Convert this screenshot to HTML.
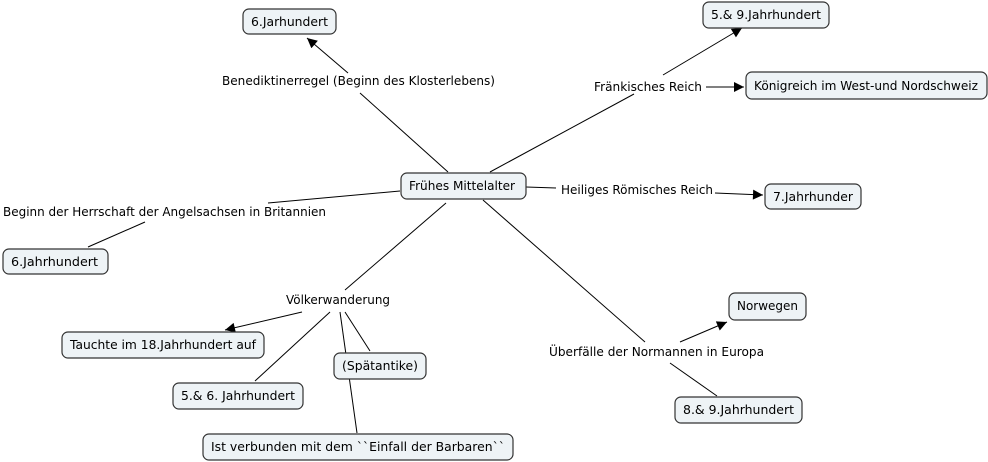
<!DOCTYPE html>
<html><head><meta charset="utf-8"><style>
body{margin:0;background:#fff}
svg{display:block}
text{font-family:"DejaVu Sans","Liberation Sans",sans-serif;font-size:12.5px;fill:#000}
rect{fill:#eef3f6;stroke:#333;stroke-width:1.2}
line{stroke:#000;stroke-width:1}
</style></head><body>
<svg width="988" height="462" viewBox="0 0 988 462" xmlns="http://www.w3.org/2000/svg">
<defs><marker id="a" viewBox="0 0 10 10" refX="10" refY="5" markerWidth="12" markerHeight="10" markerUnits="userSpaceOnUse" orient="auto"><path d="M0,0L10,5L0,10z" fill="#000"/></marker></defs>
<line x1="448" y1="172" x2="360" y2="93"/>
<line x1="348" y1="73" x2="307" y2="38" marker-end="url(#a)"/>
<line x1="490" y1="172" x2="634" y2="94"/>
<line x1="663" y1="75" x2="742" y2="28" marker-end="url(#a)"/>
<line x1="706" y1="87" x2="744" y2="87" marker-end="url(#a)"/>
<line x1="526" y1="187" x2="556" y2="188"/>
<line x1="715" y1="193" x2="763" y2="195" marker-end="url(#a)"/>
<line x1="400" y1="191" x2="268" y2="203"/>
<line x1="145" y1="222" x2="88" y2="247"/>
<line x1="446" y1="203" x2="345" y2="290"/>
<line x1="302" y1="312" x2="225" y2="330" marker-end="url(#a)"/>
<line x1="330" y1="312" x2="255" y2="381"/>
<line x1="340" y1="312" x2="357" y2="433"/>
<line x1="345" y1="312" x2="370" y2="351"/>
<line x1="483" y1="200" x2="645" y2="342"/>
<line x1="680" y1="342" x2="727" y2="322" marker-end="url(#a)"/>
<line x1="670" y1="363" x2="717" y2="396"/>
<rect x="243" y="9" width="93" height="25" rx="6"/><text x="251" y="26" textLength="77" lengthAdjust="spacingAndGlyphs">6.Jarhundert</text>
<rect x="703" y="2" width="126" height="26" rx="6"/><text x="711" y="19" textLength="110" lengthAdjust="spacingAndGlyphs">5.&amp; 9.Jahrhundert</text>
<rect x="746" y="72" width="241" height="27" rx="6"/><text x="754" y="90" textLength="224" lengthAdjust="spacingAndGlyphs">Königreich im West-und Nordschweiz</text>
<rect x="401" y="173" width="125" height="26" rx="6"/><text x="409" y="190" textLength="106" lengthAdjust="spacingAndGlyphs">Frühes Mittelalter</text>
<rect x="765" y="184" width="96" height="25" rx="6"/><text x="773" y="201" textLength="80" lengthAdjust="spacingAndGlyphs">7.Jahrhunder</text>
<rect x="3" y="249" width="105" height="25" rx="6"/><text x="11" y="266" textLength="87" lengthAdjust="spacingAndGlyphs">6.Jahrhundert</text>
<rect x="62" y="332" width="202" height="26" rx="6"/><text x="70" y="349" textLength="186" lengthAdjust="spacingAndGlyphs">Tauchte im 18.Jahrhundert auf</text>
<rect x="334" y="353" width="92" height="26" rx="6"/><text x="342" y="370" textLength="76" lengthAdjust="spacingAndGlyphs">(Spätantike)</text>
<rect x="173" y="383" width="130" height="26" rx="6"/><text x="181" y="400" textLength="114" lengthAdjust="spacingAndGlyphs">5.&amp; 6. Jahrhundert</text>
<rect x="729" y="293" width="77" height="27" rx="6"/><text x="737" y="310" textLength="61" lengthAdjust="spacingAndGlyphs">Norwegen</text>
<rect x="675" y="397" width="127" height="26" rx="6"/><text x="683" y="414" textLength="111" lengthAdjust="spacingAndGlyphs">8.&amp; 9.Jahrhundert</text>
<rect x="203" y="434" width="310" height="26" rx="6"/><text x="211" y="451" textLength="294" lengthAdjust="spacingAndGlyphs">Ist verbunden mit dem ``Einfall der Barbaren``</text>
<text x="222" y="85" textLength="273" lengthAdjust="spacingAndGlyphs">Benediktinerregel (Beginn des Klosterlebens)</text>
<text x="594" y="91" textLength="108" lengthAdjust="spacingAndGlyphs">Fränkisches Reich</text>
<text x="561" y="194" textLength="152" lengthAdjust="spacingAndGlyphs">Heiliges Römisches Reich</text>
<text x="3" y="216" textLength="323" lengthAdjust="spacingAndGlyphs">Beginn der Herrschaft der Angelsachsen in Britannien</text>
<text x="286" y="304" textLength="104" lengthAdjust="spacingAndGlyphs">Völkerwanderung</text>
<text x="549" y="356" textLength="215" lengthAdjust="spacingAndGlyphs">Überfälle der Normannen in Europa</text>
</svg>
</body></html>
